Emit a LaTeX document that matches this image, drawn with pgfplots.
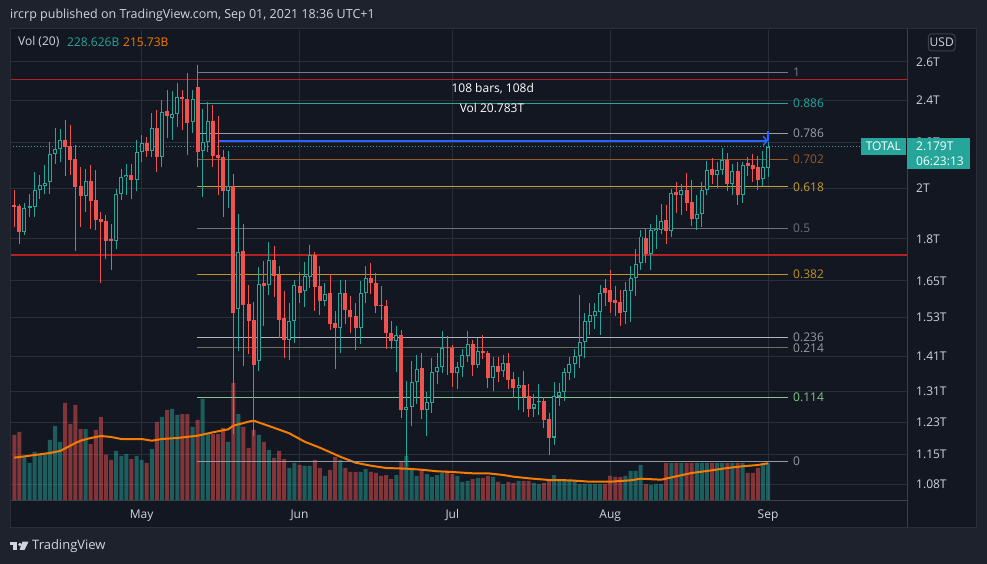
\documentclass[border=0pt]{standalone}
\usepackage{fontspec}
\setmainfont{Open Sans}
\usepackage{pgfplots}
\usepackage{pgfplotstable}
\usetikzlibrary{arrows.meta}
\pgfplotsset{compat=1.18}

\definecolor{bg}{RGB}{19,23,34}
\definecolor{outer}{RGB}{30,34,45}
\definecolor{gridc}{RGB}{42,46,57}
\definecolor{sep}{RGB}{60,64,75}
\definecolor{txt}{RGB}{209,212,220}
\definecolor{cup}{RGB}{38,166,154}
\definecolor{cdn}{RGB}{239,83,80}
\definecolor{maor}{RGB}{245,124,0}
\definecolor{redl}{RGB}{178,34,34}
\definecolor{bluel}{RGB}{41,98,255}
\definecolor{fa}{RGB}{120,123,134}
\definecolor{fb}{RGB}{38,166,154}
\definecolor{fc}{RGB}{155,158,166}
\definecolor{fd}{RGB}{150,90,40}
\definecolor{fe}{RGB}{200,160,50}
\definecolor{ff}{RGB}{110,113,122}
\definecolor{fg}{RGB}{195,145,35}
\definecolor{fh}{RGB}{178,181,190}
\definecolor{fi}{RGB}{110,110,95}
\definecolor{fj}{RGB}{129,199,132}
\definecolor{fk}{RGB}{150,153,160}

% up (green) candles: index, open, high, low, close, volume (B)
\pgfplotstableread{
i o h l c v
2 1.826 1.939 1.813 1.921 253.4
3 1.921 1.978 1.883 1.926 217.4
4 1.923 2.069 1.883 1.991 280.3
5 1.994 2.055 1.957 2.012 263.1
6 2.009 2.098 1.975 2.023 267.1
7 2.026 2.202 1.978 2.147 348.9
8 2.147 2.265 2.105 2.169 429.0
9 2.169 2.260 2.113 2.210 337.5
14 1.968 2.083 1.903 2.029 411.8
20 1.791 1.998 1.761 1.978 286.0
21 1.978 2.083 1.950 2.048 257.4
22 2.045 2.105 1.971 2.055 268.8
24 2.036 2.210 1.988 2.155 257.4
25 2.157 2.233 2.113 2.199 234.5
27 2.162 2.336 2.135 2.265 297.4
29 2.132 2.402 2.091 2.343 480.5
31 2.312 2.448 2.210 2.332 526.2
32 2.332 2.490 2.272 2.419 491.9
35 2.296 2.453 2.241 2.406 423.3
37 2.162 2.356 1.964 2.202 583.4
38 2.202 2.394 2.157 2.299 383.2
42 1.988 2.162 1.919 2.008 337.5
44 1.556 1.894 1.425 1.753 497.6
48 1.396 1.697 1.367 1.640 377.5
50 1.636 1.790 1.603 1.724 291.7
54 1.460 1.575 1.400 1.519 188.8
55 1.519 1.651 1.449 1.634 217.4
57 1.614 1.717 1.561 1.665 200.2
58 1.662 1.776 1.626 1.739 200.2
61 1.582 1.642 1.564 1.606 143.0
64 1.495 1.651 1.419 1.609 234.5
68 1.495 1.648 1.447 1.609 165.9
69 1.609 1.700 1.575 1.660 183.0
75 1.457 1.503 1.364 1.475 148.7
77 1.261 1.340 1.123 1.270 257.4
78 1.268 1.395 1.220 1.337 177.3
79 1.337 1.415 1.277 1.374 143.0
81 1.261 1.309 1.195 1.281 154.4
82 1.280 1.405 1.252 1.365 137.3
83 1.364 1.421 1.330 1.380 148.7
84 1.378 1.486 1.362 1.435 160.2
87 1.361 1.393 1.316 1.380 143.0
88 1.378 1.432 1.351 1.415 108.7
89 1.412 1.486 1.393 1.447 114.4
91 1.386 1.465 1.377 1.427 131.6
94 1.349 1.409 1.311 1.383 137.3
96 1.367 1.415 1.351 1.391 97.2
99 1.319 1.351 1.262 1.329 114.4
102 1.265 1.304 1.244 1.277 103.0
103 1.281 1.330 1.249 1.286 97.2
106 1.191 1.338 1.173 1.299 148.7
107 1.297 1.333 1.272 1.310 125.8
108 1.309 1.375 1.286 1.364 114.4
109 1.362 1.407 1.343 1.388 114.4
110 1.388 1.432 1.349 1.412 114.4
111 1.410 1.603 1.375 1.454 97.2
112 1.452 1.542 1.404 1.519 97.2
113 1.514 1.576 1.475 1.535 97.2
114 1.533 1.576 1.493 1.548 97.2
115 1.546 1.637 1.475 1.609 97.2
120 1.546 1.645 1.508 1.620 143.0
121 1.615 1.700 1.514 1.660 171.6
122 1.660 1.761 1.598 1.709 171.6
123 1.711 1.832 1.688 1.809 205.9
125 1.745 1.858 1.686 1.832 91.5
126 1.830 1.890 1.764 1.838 97.2
127 1.835 1.934 1.817 1.867 97.2
129 1.830 1.998 1.809 1.982 217.4
131 1.974 2.019 1.890 1.994 217.4
134 1.875 1.971 1.832 1.897 217.4
135 1.897 2.026 1.845 1.994 217.4
136 1.994 2.116 1.971 2.079 217.4
138 2.055 2.111 2.002 2.076 217.4
139 2.076 2.175 2.055 2.120 217.4
141 2.016 2.101 1.971 2.072 217.4
143 1.971 2.113 1.939 2.098 217.4
147 2.037 2.160 2.008 2.088 217.4
148 2.087 2.201 2.048 2.179 217.4
}\up

% down (red) candles
\pgfplotstableread{
i o h l c v
0 1.930 1.994 1.845 1.923 377.5
1 1.927 1.937 1.782 1.826 394.7
10 2.210 2.307 2.052 2.180 560.6
11 2.183 2.280 2.055 2.120 440.4
12 2.123 2.187 1.754 2.005 549.1
13 2.008 2.091 1.845 1.968 411.8
15 2.029 2.098 1.838 1.947 326.0
16 1.950 2.076 1.835 1.871 406.1
17 1.875 1.903 1.643 1.864 480.5
18 1.867 1.890 1.727 1.791 264.8
19 1.798 1.858 1.686 1.791 234.5
23 2.055 2.101 1.957 2.033 240.2
26 2.199 2.225 2.135 2.162 217.4
28 2.265 2.353 2.069 2.132 451.9
30 2.348 2.453 2.218 2.325 520.5
33 2.417 2.453 2.257 2.406 497.6
34 2.406 2.543 2.142 2.288 497.6
36 2.467 2.584 2.088 2.157 463.3
39 2.299 2.377 2.091 2.138 383.2
40 2.142 2.323 1.971 2.130 383.2
41 2.133 2.165 1.883 1.988 417.6
43 2.008 2.059 1.200 1.542 675.0
45 1.757 1.855 1.381 1.570 423.3
46 1.573 1.637 1.417 1.519 303.2
47 1.521 1.578 1.195 1.386 406.1
49 1.643 1.718 1.503 1.632 337.5
51 1.724 1.773 1.595 1.666 246.0
52 1.670 1.700 1.465 1.522 286.0
53 1.526 1.614 1.404 1.460 240.2
56 1.631 1.682 1.575 1.609 205.9
59 1.739 1.753 1.549 1.628 234.5
60 1.631 1.700 1.535 1.582 188.8
62 1.609 1.674 1.490 1.508 177.3
63 1.512 1.549 1.374 1.495 251.7
65 1.609 1.654 1.508 1.553 188.8
66 1.553 1.597 1.479 1.530 165.9
67 1.532 1.576 1.429 1.495 165.9
70 1.660 1.711 1.606 1.642 165.9
71 1.643 1.676 1.542 1.565 160.2
72 1.567 1.631 1.521 1.565 143.0
73 1.565 1.584 1.432 1.479 148.7
74 1.481 1.516 1.432 1.457 125.8
76 1.475 1.488 1.240 1.261 228.8
80 1.377 1.419 1.237 1.261 177.3
85 1.437 1.472 1.357 1.434 171.6
86 1.435 1.445 1.324 1.361 154.4
90 1.447 1.460 1.354 1.386 125.8
92 1.427 1.475 1.401 1.419 131.6
93 1.419 1.427 1.319 1.349 143.0
95 1.383 1.409 1.338 1.364 108.7
97 1.391 1.420 1.317 1.343 108.7
98 1.345 1.366 1.292 1.319 103.0
100 1.329 1.369 1.255 1.297 114.4
101 1.299 1.330 1.244 1.265 114.4
104 1.286 1.297 1.216 1.235 103.0
105 1.237 1.253 1.149 1.191 114.4
116 1.624 1.657 1.567 1.608 97.2
117 1.617 1.689 1.544 1.580 143.0
118 1.584 1.631 1.532 1.575 137.3
119 1.578 1.617 1.503 1.542 137.3
124 1.803 1.838 1.711 1.745 97.2
128 1.874 1.930 1.782 1.830 217.4
130 1.984 2.026 1.899 1.974 217.4
132 1.994 2.065 1.907 1.939 217.4
133 1.942 2.033 1.849 1.875 217.4
137 2.080 2.130 2.016 2.055 217.4
140 2.120 2.153 1.987 2.016 217.4
142 2.072 2.110 1.930 1.971 217.4
144 2.108 2.135 2.050 2.094 160.2
145 2.098 2.147 2.026 2.080 160.2
146 2.091 2.138 1.994 2.033 188.8
}\dn

\newcommand{\lbl}{\fontsize{12}{14}\selectfont}

\begin{document}
\begin{tikzpicture}[x=1pt,y=1pt]
\useasboundingbox (0,0) rectangle (987,564);
\fill[outer] (0,0) rectangle (987,564);
\fill[bg] (10,36) rectangle (977,536);

% ---------- axis A: grid and tick labels ----------
\begin{axis}[at={(10pt,63pt)}, anchor=south west, scale only axis,
  width=897pt, height=471pt, enlargelimits=false,
  xmin=-0.844, xmax=175.28, ymode=log, ymin=1.0437, ymax=2.779,
  axis line style={draw=none}, major tick length=0pt, tick style={draw=none},
  xtick={25,56,86,117,148}, xticklabels={May,Jun,Jul,Aug,Sep},
  ytick={1.08,1.15,1.23,1.31,1.41,1.53,1.65,1.8,2,2.2,2.4,2.6},
  yticklabels={1.08T,1.15T,1.23T,1.31T,1.41T,1.53T,1.65T,1.8T,2T,2.2T,2.4T,2.6T},
  yticklabel pos=right,
  grid=major, grid style={gridc, line width=1pt},
  yticklabel style={anchor=west, inner sep=0pt, xshift=9pt, text=txt, font=\lbl},
  xticklabel style={anchor=base, inner sep=0pt, yshift=-18pt, text=txt, font=\lbl},
]
\addplot[draw=none] coordinates {(0,1.5)};
\end{axis}

% ---------- axis B: volume ----------
\begin{axis}[at={(10pt,63pt)}, anchor=south west, scale only axis,
  width=897pt, height=471pt, enlargelimits=false,
  xmin=-0.844, xmax=175.28, ymin=0, ymax=2694, hide axis]
\addplot[ybar, bar width=4pt, bar shift=0pt, fill=cup, fill opacity=0.5, draw=none] table[x=i, y=v] {\up};
\addplot[ybar, bar width=4pt, bar shift=0pt, fill=cdn, fill opacity=0.5, draw=none] table[x=i, y=v] {\dn};
\addplot[maor, line width=2pt] coordinates {
(0,247.7) (4,263.1) (7,274.6) (9,286.0) (12,331.8) (13,344.9) (15,360.4) (17,371.8)
(19,366.1) (21,354.6) (25,354.6) (27,344.9) (29,354.6) (32,360.4) (36,373.5) (39,393.0)
(42,410.1) (43,430.7) (46,453.6) (47,459.3) (51,418.7) (54,387.2) (57,339.2) (60,304.9)
(64,253.4) (67,219.1) (70,201.9) (73,188.8) (77,184.8) (80,179.0) (83,169.9) (86,165.9)
(90,158.4) (93,158.4) (96,148.7) (98,139.0) (101,129.8) (105,120.1) (109,118.4) (113,110.4)
(117,110.4) (121,118.4) (123,127.6) (127,121.8) (130,141.3) (133,160.2) (137,175.6)
(140,188.8) (143,198.5) (146,205.9) (148,215.7)};
\end{axis}

% ---------- axis C: price drawings and candles ----------
\begin{axis}[at={(10pt,63pt)}, anchor=south west, scale only axis,
  width=897pt, height=471pt, enlargelimits=false,
  xmin=-0.844, xmax=175.28, ymode=log, ymin=1.0437, ymax=2.779, hide axis]
% horizontal red lines
\addplot[redl, line width=1.2pt] coordinates {(-0.844,2.508) (175.28,2.508)};
\addplot[redl, line width=1.2pt] coordinates {(-0.844,1.741) (175.28,1.741)};
% fibonacci levels
\addplot[fa, line width=1pt] coordinates {(35.9,2.545) (151.9,2.545)};
\addplot[fb, line width=1pt] coordinates {(35.9,2.384) (151.9,2.384)};
\addplot[fc, line width=1pt] coordinates {(35.9,2.243) (151.9,2.243)};
\addplot[fd, line width=1pt] coordinates {(35.9,2.124) (151.9,2.124)};
\addplot[fe, line width=1pt] coordinates {(35.9,2.006) (151.9,2.006)};
\addplot[ff, line width=1pt] coordinates {(35.9,1.839) (151.9,1.839)};
\addplot[fg, line width=1pt] coordinates {(35.9,1.672) (151.9,1.672)};
\addplot[fh, line width=1pt] coordinates {(35.9,1.466) (151.9,1.466)};
\addplot[fi, line width=1pt] coordinates {(35.9,1.435) (151.9,1.435)};
\addplot[fj, line width=1pt] coordinates {(35.9,1.294) (151.9,1.294)};
\addplot[fk, line width=1pt] coordinates {(35.9,1.133) (151.9,1.133)};
% current price dotted line
\addplot[cup, line width=1pt, dash pattern=on 1pt off 2pt] coordinates {(-0.844,2.179) (175.28,2.179)};
% date range tool
\addplot[bluel, line width=1.5pt, -{Straight Barb[length=4pt,width=9pt]}] coordinates {(40,2.207) (148,2.207)};
\addplot[bluel, line width=1.2pt] coordinates {(148,2.252) (148,2.207)};

% up candles: wick, hollow body
\addplot[draw=none, error bars/.cd, y dir=plus, y explicit, error mark=none,
  error bar style={draw=cup, line width=1pt}]
  table[x=i, y=l, y error plus expr=\thisrow{h}-\thisrow{l}] {\up};
\addplot[draw=none, error bars/.cd, y dir=plus, y explicit, error mark=none,
  error bar style={draw=cup, line width=4pt}]
  table[x=i, y=o, y error plus expr={max(\thisrow{c}-\thisrow{o},0.0025*\thisrow{o})}] {\up};
\addplot[draw=none, error bars/.cd, y dir=plus, y explicit, error mark=none,
  error bar style={draw=bg, line width=2pt}]
  table[x=i, y expr=\thisrow{o}*1.0021, y error plus expr={max(\thisrow{c}/1.0021-\thisrow{o}*1.0021,0)}] {\up};
% down candles: wick, filled body
\addplot[draw=none, error bars/.cd, y dir=plus, y explicit, error mark=none,
  error bar style={draw=cdn, line width=1pt}]
  table[x=i, y=l, y error plus expr=\thisrow{h}-\thisrow{l}] {\dn};
\addplot[draw=none, error bars/.cd, y dir=plus, y explicit, error mark=none,
  error bar style={draw=cdn, line width=4pt}]
  table[x=i, y=c, y error plus expr={max(\thisrow{o}-\thisrow{c},0.0025*\thisrow{c})}] {\dn};

% fib labels
\node[anchor=west, inner sep=0pt, text=fa, font=\lbl] at (axis cs:152.9,2.545) {1};
\node[anchor=west, inner sep=0pt, text=fb, font=\lbl] at (axis cs:152.9,2.384) {0.886};
\node[anchor=west, inner sep=0pt, text=fc, font=\lbl] at (axis cs:152.9,2.243) {0.786};
\node[anchor=west, inner sep=0pt, text=fd, font=\lbl] at (axis cs:152.9,2.124) {0.702};
\node[anchor=west, inner sep=0pt, text=fe, font=\lbl] at (axis cs:152.9,2.006) {0.618};
\node[anchor=west, inner sep=0pt, text=ff, font=\lbl] at (axis cs:152.9,1.839) {0.5};
\node[anchor=west, inner sep=0pt, text=fg, font=\lbl] at (axis cs:152.9,1.672) {0.382};
\node[anchor=west, inner sep=0pt, text=fk, font=\lbl] at (axis cs:152.9,1.466) {0.236};
\node[anchor=west, inner sep=0pt, text=fk, font=\lbl] at (axis cs:152.9,1.435) {0.214};
\node[anchor=west, inner sep=0pt, text=fj, font=\lbl] at (axis cs:152.9,1.294) {0.114};
\node[anchor=west, inner sep=0pt, text=fk, font=\lbl] at (axis cs:152.9,1.133) {0};
\end{axis}

% pane separators and frame
\draw[sep, line width=1pt] (907,36) -- (907,536);
\draw[sep, line width=1pt] (10,63) -- (907,63);
\draw[gridc, line width=1pt] (10.5,36.5) rectangle (976.5,535.5);

% header and legend
\node[anchor=west, inner sep=0pt, text=txt, font=\fontsize{12.5}{14}\selectfont] at (10,549) {ircrp published on TradingView.com, Sep 01, 2021 18:36 UTC+1};
\node[anchor=west, inner sep=0pt, text=txt, font=\lbl] at (18,522) {Vol (20)};
\node[anchor=west, inner sep=0pt, text=cup, font=\lbl] at (67,522) {228.626B};
\node[anchor=west, inner sep=0pt, text=maor, font=\lbl] at (123,522) {215.73B};

% date range text
\node[text=white, inner sep=0pt, font=\lbl] at (492.7,475.7) {108 bars, 108d};
\node[text=white, inner sep=0pt, font=\lbl] at (492,455.7) {Vol 20.783T};

% price boxes (the box covers the 2.2T tick label, as in the original)
\fill[cup] (861,409) rectangle (905.7,426);
\node[text=white, inner sep=0pt, font=\lbl] at (883.3,417.5) {TOTAL};
\fill[cup] (907,395) rectangle (970,426);
\node[anchor=west, text=white, inner sep=0pt, font=\lbl] at (916,417.5) {2.179T};
\node[anchor=west, text=white, inner sep=0pt, font=\lbl] at (916,403) {06:23:13};

% USD box
\draw[sep, rounded corners=3pt, line width=1pt] (928.3,513) rectangle (955,530);
\node[text=txt, inner sep=0pt, font=\lbl] at (941.7,521.5) {USD};

% TradingView logo
\fill[txt] (10,22.3) rectangle (17.3,19);
\fill[txt] (13.3,22.3) rectangle (17.3,14);
\fill[txt] (20,19.5) circle (1.9);
\fill[txt] (22.5,22.3) -- (28.5,22.3) -- (24.5,14) -- (19.5,14) -- cycle;
\node[anchor=west, inner sep=0pt, text=txt, font=\fontsize{13}{15}\selectfont] at (32,18) {TradingView};
\end{tikzpicture}
\end{document}
